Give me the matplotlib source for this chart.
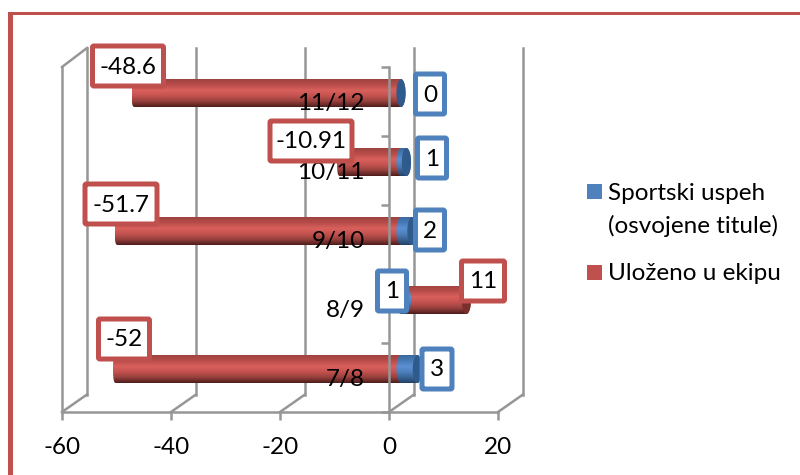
import numpy as np
import matplotlib
matplotlib.use("Agg")
import matplotlib.pyplot as plt
from matplotlib.colors import LinearSegmentedColormap
from matplotlib.patches import Ellipse, FancyBboxPatch, Rectangle
from matplotlib.path import Path
from matplotlib.transforms import IdentityTransform

plt.rcParams["font.family"] = ["Lato", "DejaVu Sans"]

seasons = ["7/8", "8/9", "9/10", "10/11", "11/12"]
titles = [3, 1, 2, 1, 0]
invested = [-52, 11, -51.7, -10.91, -48.6]
x_ticks = [-60, -40, -20, 0, 20]

BLUE = "#4F81BD"
RED = "#C0504D"
GRID = "#969696"
W, H = 800, 475
FS = 17.5
LW = 1.8

# value labels, in pixels of the picture: centre x, centre y, outer width
title_boxes = [(437, 369, 35), (392, 291, 34), (430, 230, 34), (432, 158, 34), (430, 94, 34)]
invested_boxes = [(124, 339, 56), (483, 281, 48), (121, 204, 77), (311, 141, 87), (128, 66, 76)]

fig = plt.figure(figsize=(8, 4.75), dpi=100)
# plot box: x -60..20 is px 62..498, y 0..5 is px 412..67
ax = fig.add_axes([62 / W, 1 - 412 / H, (498 - 62) / W, (412 - 67) / H])
px_x = 436 / 80
px_y = 345 / 5
depth_x = 25 / px_x
depth_y = 17.5 / px_y

red_map = LinearSegmentedColormap.from_list("r", ["#4E1D1C", "#97403D", "#C4524F", "#D9605C", "#B84C49", "#9E4340"])
blue_map = LinearSegmentedColormap.from_list("b", ["#234468", "#3A6494", "#4F81BD", "#5C90D2", "#477BB6", "#3B6A9E"])
grad = np.linspace(0, 1, 64).reshape(-1, 1)

bar_dx = 12 / px_x
bar_dy = 8.5 / px_y
bar_h = 28 / px_y
end_rx = 4.6 / px_x


def cylinder(x0, x1, yc, cmap, cap_color, left_pow=1.0, cap=True):
    ry = bar_h / 2
    t = np.linspace(-np.pi / 2, np.pi / 2, 40)
    right = np.column_stack([x1 + end_rx * np.cos(t), yc + ry * np.sin(t)])
    left = np.column_stack([x0 - end_rx * np.cos(t[::-1]) ** left_pow, yc + ry * np.sin(t[::-1])])
    pts = np.vstack([right, left, right[:1]])
    im = ax.imshow(grad, extent=[x0 - end_rx, x1 + end_rx, yc - ry, yc + ry], origin="lower",
                   aspect="auto", cmap=cmap, zorder=2)
    im.set_clip_path(Path(pts), ax.transData)
    if cap:
        ax.add_patch(Ellipse((x1, yc), 2 * end_rx, bar_h, color=cap_color, zorder=2.1, lw=0))


# walls and floor
for v in x_ticks:
    ax.plot([v + depth_x] * 2, [depth_y, 5 + 19 / px_y], color=GRID, lw=LW, zorder=1, clip_on=False)
    ax.plot([v, v + depth_x], [0, depth_y], color=GRID, lw=LW, zorder=1, clip_on=False)
ax.plot([-60, -60], [0, 5], color=GRID, lw=LW, zorder=1, clip_on=False)
ax.plot([-60, -60 + depth_x], [5, 5 + 19 / px_y], color=GRID, lw=LW, zorder=1, clip_on=False)

# stacked cylinders, red from the zero plane (or on top of the blue when positive)
for i in range(len(seasons)):
    yc = i + 0.5 + bar_dy
    t_val, r_val = titles[i], invested[i]
    if r_val < 0:
        cylinder(r_val + bar_dx, bar_dx, yc, red_map, "#8E3B38", left_pow=0.35, cap=False)
        if t_val > 0:
            cylinder(bar_dx, t_val + bar_dx, yc, blue_map, "#2F5A8C")
        else:
            ax.add_patch(Ellipse((bar_dx, yc), 2 * end_rx, bar_h, color="#2F5A8C", zorder=2.1, lw=0))
    else:
        cylinder(t_val + bar_dx, t_val + r_val + bar_dx, yc, red_map, "#7A2F2D", cap=True)
        cylinder(bar_dx, t_val + bar_dx, yc, blue_map, "#2F5A8C", cap=False)

ax.set_xlim(-60, 20)
ax.set_ylim(0, 5)
ax.patch.set_visible(False)
ax.set_axisbelow(False)
for side in ["top", "right"]:
    ax.spines[side].set_visible(False)
ax.spines["left"].set_position(("data", 0))
ax.spines["left"].set_color(GRID)
ax.spines["bottom"].set_color(GRID)
ax.spines["left"].set_linewidth(LW)
ax.spines["bottom"].set_linewidth(LW)

ax.set_xticks(x_ticks, [str(v) for v in x_ticks])
ax.set_yticks(np.arange(0, 6), minor=False)
ax.set_yticklabels([""] * 6)
ax.set_yticks(np.arange(len(seasons)) + 0.5, seasons, minor=True)
ax.tick_params(axis="x", length=6, width=LW, color=GRID, labelsize=FS, pad=12, labelcolor="black")
ax.tick_params(axis="y", which="major", length=6, width=LW, color=GRID)
ax.tick_params(axis="y", which="minor", length=0, pad=17.5, labelsize=FS, labelcolor="black")


def value_box(text, box, edge):
    cx, cy, w = box
    h = 45
    inset = 2.5
    ax.add_patch(FancyBboxPatch((cx - w / 2 + inset, H - cy - h / 2 + inset), w - 2 * inset, h - 2 * inset,
                                boxstyle="round,pad=0,rounding_size=1.5", fc="white", ec=edge, lw=3.6,
                                transform=IdentityTransform(), clip_on=False, zorder=5))
    ax.text(cx / W, 1 - (cy + 1) / H, text, transform=fig.transFigure, ha="center", va="center",
            fontsize=FS, color="black", zorder=6)


for i in range(len(seasons)):
    value_box(str(invested[i]), invested_boxes[i], RED)
    value_box(str(titles[i]), title_boxes[i], BLUE)

# legend placed by hand, the square sits on the first text line
for colour, sq_y, label, text_ys in [(BLUE, 192, ["Sportski uspeh", "(osvojene titule)"], [193, 226]),
                                     (RED, 272, ["Uloženo u ekipu"], [273])]:
    fig.add_artist(Rectangle((587 / W, 1 - (sq_y + 7.5) / H), 15 / W, 15 / H, transform=fig.transFigure,
                             color=colour, lw=0))
    for line, y in zip(label, text_ys):
        fig.text(608 / W, 1 - y / H, line, fontsize=FS, color="black", ha="left", va="center")

# the frame round the slide, only top and left are in the picture
fig.add_artist(Rectangle((7.5 / W, 0), 5 / W, 1 - 12 / H, transform=fig.transFigure, color=RED, lw=0))
fig.add_artist(Rectangle((7.5 / W, 1 - 15 / H), 1, 3 / H, transform=fig.transFigure, color=RED, lw=0))

fig.savefig("out.png", dpi=100)
